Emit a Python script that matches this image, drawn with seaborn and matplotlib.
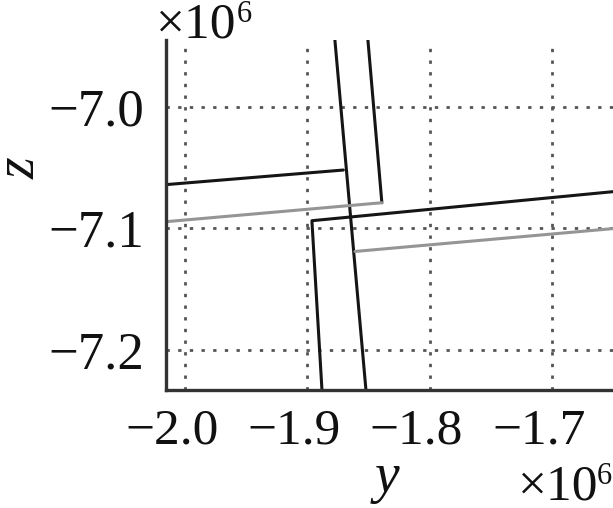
import numpy as np
import pandas as pd
import matplotlib
matplotlib.use("Agg")
import matplotlib.pyplot as plt
import seaborn as sns
from matplotlib.ticker import FuncFormatter
from matplotlib.transforms import ScaledTranslation

# ---- data (values in units of 1e6) ----
seg_names = ["D1", "D2", "D3", "G1v", "G1h", "G2"]
seg_x = [
    [-1.8774, -1.852],
    [-2.0155, -1.8705],
    [-1.650, -1.8962, -1.888],
    [-1.8504, -1.839],
    [-1.839, -2.0155],
    [-1.650, -1.861],
]
seg_z = [
    [-6.945, -7.233],
    [-7.064, -7.052],
    [-7.0698, -7.0937, -7.2325],
    [-6.945, -7.0789],
    [-7.0789, -7.0945],
    [-7.1002, -7.119],
]
seg_tone = ["dark", "dark", "dark", "dark", "light", "light"]
x_ticks = [-2.0, -1.9, -1.8, -1.7]
z_ticks = [-7.0, -7.1, -7.2]

rows = []
for name, xs, zs in zip(seg_names, seg_x, seg_z):
    for i, (xv, zv) in enumerate(zip(xs, zs)):
        rows.append({"seg": name, "x": xv, "z": zv, "order": i})
df = pd.DataFrame(rows)

sns.set_theme(style="white")
plt.rcParams["font.family"] = ["Liberation Serif", "DejaVu Serif"]

fig = plt.figure(figsize=(6.13, 5.08), dpi=100)
ax = fig.add_axes([166 / 613, 1 - 390 / 508, 447 / 613, 350 / 508])

tone_color = {"dark": "#151515", "light": "#959595"}
palette = {n: tone_color[t] for n, t in zip(seg_names, seg_tone)}

sns.lineplot(data=df, x="x", y="z", hue="seg", units="seg", estimator=None,
             sort=False, palette=palette, legend=False, linewidth=2.2, ax=ax)

ax.set_xlim(-2.0155, -1.650)
ax.set_ylim(-7.233, -6.945)
ax.set_xticks(x_ticks)
ax.set_yticks(z_ticks)
fmt = FuncFormatter(lambda v, p: ("\u2212" if v < 0 else "") + f"{abs(v):.1f}")
ax.xaxis.set_major_formatter(fmt)
ax.yaxis.set_major_formatter(fmt)

ax.grid(True, color="#555555", linestyle=(0, (1.2, 3.0)), linewidth=2.0)
ax.set_axisbelow(True)
for s in ["top", "right"]:
    ax.spines[s].set_visible(False)
for s in ["left", "bottom"]:
    ax.spines[s].set_color("#333333")
    ax.spines[s].set_linewidth(2.4)

ax.tick_params(axis="x", direction="in", length=3, width=1, color="#555555",
               labelsize=37, labelcolor="#111111", pad=13)
ax.tick_params(axis="y", direction="in", length=3, width=1, color="#555555",
               labelsize=38, labelcolor="#111111", pad=16)
ax.set_xlabel("")
ax.set_ylabel("")

# digits centred on ticks, minus sign hanging to the left
shift = ScaledTranslation(-13 / 100, 0, fig.dpi_scale_trans)
for lab in ax.get_xticklabels():
    lab.set_transform(lab.get_transform() + shift)

fig.text(21 / 613, 1 - 168 / 508, "z", rotation=90, fontsize=40, style="italic",
         ha="center", va="center", color="#111111")
fig.text(387 / 613, 1 - 492 / 508, "y", fontsize=40, style="italic",
         ha="center", va="baseline", color="#111111")

# offset texts (x10^6)
fig.text(236 / 613, 1 - 38 / 508, "\u00d710", fontsize=37,
         ha="right", va="baseline", color="#111111")
fig.text(237 / 613, 1 - 22 / 508, "6", fontsize=22,
         ha="left", va="baseline", color="#111111")
fig.text(598 / 613, 1 - 500 / 508, "\u00d710", fontsize=37,
         ha="right", va="baseline", color="#111111")
fig.text(612 / 613, 1 - 484 / 508, "6", fontsize=22,
         ha="right", va="baseline", color="#111111")

fig.savefig("out.png", dpi=100)
